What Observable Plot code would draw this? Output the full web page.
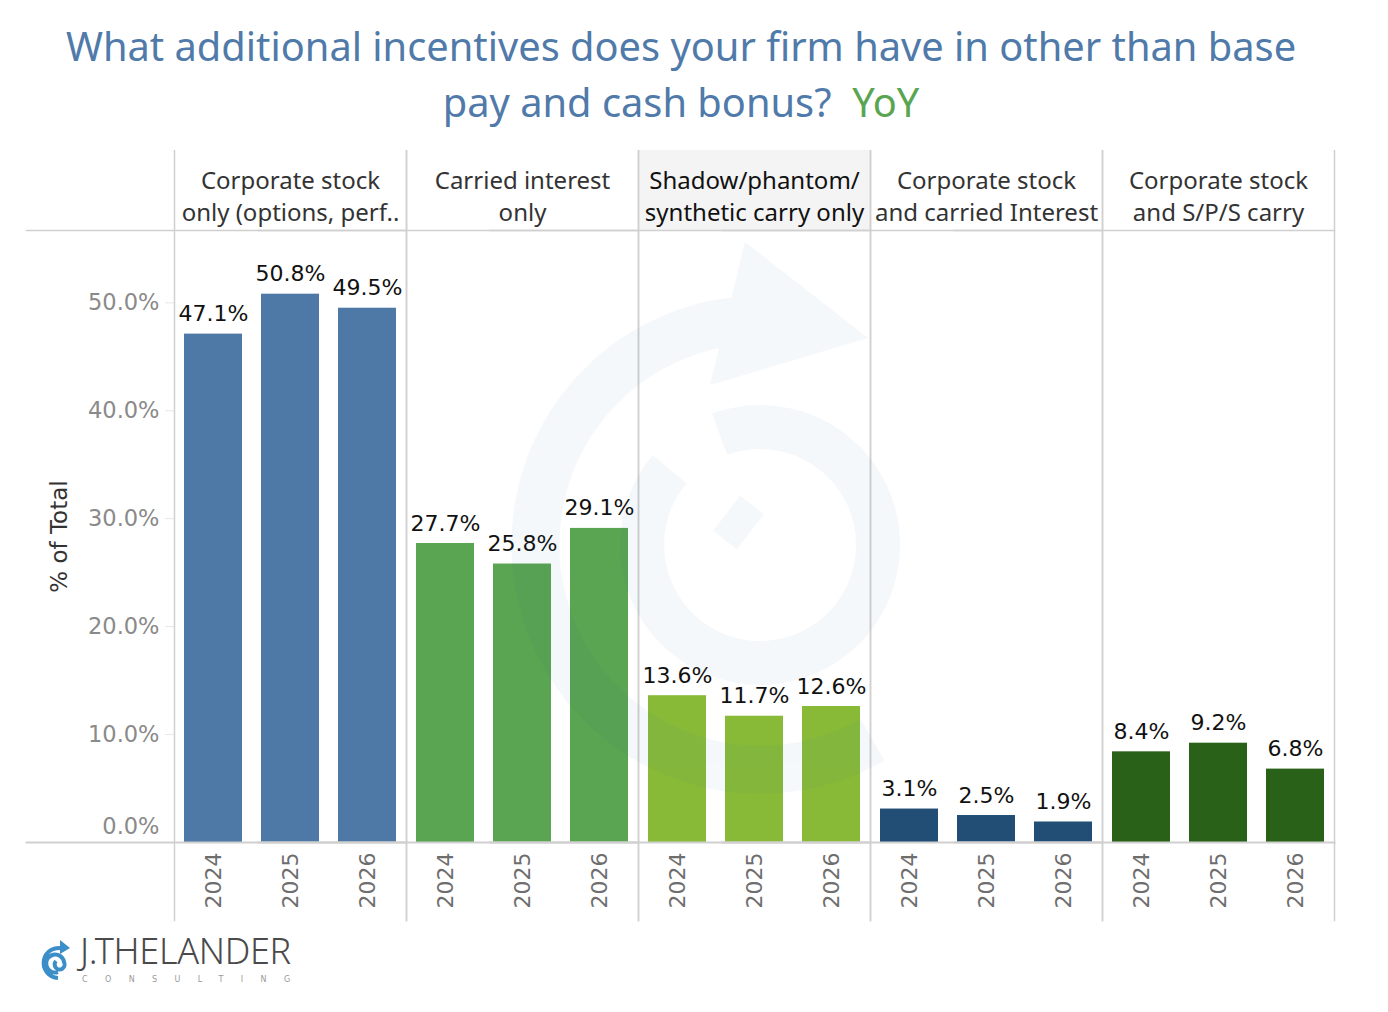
<!DOCTYPE html>
<html>
<head>
<meta charset="utf-8">
<script src="https://cdn.jsdelivr.net/npm/d3@7"></script>
<script src="https://cdn.jsdelivr.net/npm/@observablehq/plot@0.6"></script>
<style>
  body { margin: 0; background: #fff; font-family: "Noto Sans", sans-serif; position: relative; }
  #title { width: 1362px; height: 150px; box-sizing: border-box; padding-top: 18px; text-align: center;
           font-size: 39.8px; line-height: 56px; color: #4f7aa9; }
  #title .yoy { color: #5aa552; }
  #chart svg { display: block; }
  #logo { position: relative; height: 90px; }
  #logo .word { position: absolute; left: 80px; top: 13px; font-family: "Noto Sans", sans-serif; font-weight: 300;
                font-size: 36px; line-height: 0.9; letter-spacing: -0.3px; color: #4a4a4a; white-space: nowrap; }
  #logo .sub { position: absolute; left: 82px; top: 54px; font-family: "DejaVu Sans", sans-serif; font-size: 8px;
               line-height: 1; letter-spacing: 17.4px; color: #999; white-space: nowrap; }
  #logo svg { position: absolute; left: 40px; top: 12px; }
  #wm { position: absolute; left: 0; top: 0; pointer-events: none; }
</style>
</head>
<body>
<div id="title">What additional incentives does your firm have in other than base<br>pay and cash bonus?&nbsp; <span class="yoy">YoY</span></div>
<div id="chart"></div>
<div id="logo">
  <svg width="36" height="48" viewBox="0 0 36 48">
    <path d="M18 44 A15 15 0 1 1 24 15 M18 38 A9 9 0 1 1 24 28 A5 5 0 1 1 16 27" fill="none" stroke="#3b8ec8" stroke-width="4"/>
    <path d="M20 6 L30 14 L20 20 Z" fill="#3b8ec8"/>
  </svg>
  <div class="word">J.THELANDER</div>
  <div class="sub">CONSULTING</div>
</div>
<svg id="wm" width="1388" height="1012">
  <g opacity="0.04" fill="none" stroke="#1f5fa0">
    <path d="M872.5 739.9 A225 225 0 1 1 770 320" stroke-width="48"/>
    <path d="M719.6 434.1 A118 118 0 1 1 669.6 469.2" stroke-width="44"/>
    <path d="M745 242 L868 338 L710 385 Z" fill="#1f5fa0" stroke="none"/>
    <path d="M752 505 L725 540" stroke-width="30"/>
  </g>
</svg>
<script>
const categories = [
  "Corporate stock only (options, perf..",
  "Carried interest only",
  "Shadow/phantom/ synthetic carry only",
  "Corporate stock and carried Interest",
  "Corporate stock and S/P/S carry"
];
const headerLabels = [
  "Corporate stock\nonly (options, perf..",
  "Carried interest\nonly",
  "Shadow/phantom/\nsynthetic carry only",
  "Corporate stock\nand carried Interest",
  "Corporate stock\nand S/P/S carry"
];
const years = ["2024", "2025", "2026"];
const valuesCorpStock = [47.1, 50.8, 49.5];
const valuesCarried = [27.7, 25.8, 29.1];
const valuesShadow = [13.6, 11.7, 12.6];
const valuesCorpCarried = [3.1, 2.5, 1.9];
const valuesCorpSPS = [8.4, 9.2, 6.8];
const seriesValues = [valuesCorpStock, valuesCarried, valuesShadow, valuesCorpCarried, valuesCorpSPS];
const colors = ["#4e79a7", "#5aa552", "#88ba38", "#224e76", "#2a6118"];
const yTicks = [10, 20, 30, 40, 50];
const yZeroTick = [0];

const data = [];
categories.forEach((c, i) => years.forEach((y, j) => data.push({cat: c, year: y, value: seriesValues[i][j]})));
const headerRows = categories.map((c, i) => ({cat: c, label: headerLabels[i]}));

const plotH = 612;
const gridColor = "#d0d0d0";
const fmt = d => d.toFixed(1) + "%";
const chart = Plot.plot({
  width: 1388,
  height: 80 + plotH + 80,
  marginTop: 80,
  marginBottom: 80,
  marginLeft: 173,
  marginRight: 53,
  style: {fontFamily: "DejaVu Sans, sans-serif", background: "transparent"},
  fx: {domain: categories, paddingInner: 0, paddingOuter: 0, axis: null},
  x: {domain: years, paddingInner: 0.25, paddingOuter: 0.125, axis: null},
  y: {domain: [0, 56.7], axis: null},
  color: {domain: categories, range: colors},
  marks: [
    Plot.rect(headerRows.filter((d, i) => i === 2), {fx: "cat", fill: "#f4f4f4", insetTop: -80, insetBottom: plotH}),
    Plot.frame({anchor: "left", stroke: gridColor, strokeWidth: 1.5, insetTop: -80, insetBottom: -78}),
    Plot.frame({anchor: "right", stroke: gridColor, strokeWidth: 1.5, insetTop: -80, insetBottom: -78}),
    Plot.frame({anchor: "top", stroke: gridColor, strokeWidth: 1.5, insetLeft: -148}),
    Plot.barY(data, {fx: "cat", x: "year", y: "value", fill: "cat"}),
    Plot.frame({anchor: "bottom", stroke: gridColor, strokeWidth: 2, insetLeft: -148}),
    Plot.text(data, {fx: "cat", x: "year", y: "value", text: d => fmt(d.value),
      lineAnchor: "bottom", dy: -13, fontSize: 22, fill: "#111"}),
    Plot.text(headerRows, {fx: "cat", text: "label", frameAnchor: "top", lineAnchor: "middle", dy: -36,
      lineHeight: 1.33, fontSize: 24, fontFamily: "Noto Sans, sans-serif",
      fill: d => d.cat === categories[2] ? "#111" : "#333"}),
    Plot.axisY({ticks: yTicks, tickFormat: fmt, fontSize: 22.5, color: "#8a8a8a",
      stroke: "#e6e6e6", tickSize: 9, tickPadding: 6, label: null}),
    Plot.axisY({ticks: yZeroTick, tickFormat: fmt, fontSize: 22.5, color: "#8a8a8a",
      tickSize: 0, tickPadding: 15, dy: -16, label: null}),
    Plot.text(headerRows.slice(0, 1), {fx: "cat", text: () => "% of Total", frameAnchor: "left", textAnchor: "middle",
      dx: -115, rotate: -90, fontSize: 23, fill: "#333"}),
    Plot.axisX({anchor: "bottom", tickRotate: -90, tickSize: 0, tickPadding: 10, fontSize: 22, color: "#6e6e6e", label: null})
  ]
});
document.getElementById("chart").appendChild(chart);
</script>
</body>
</html>
